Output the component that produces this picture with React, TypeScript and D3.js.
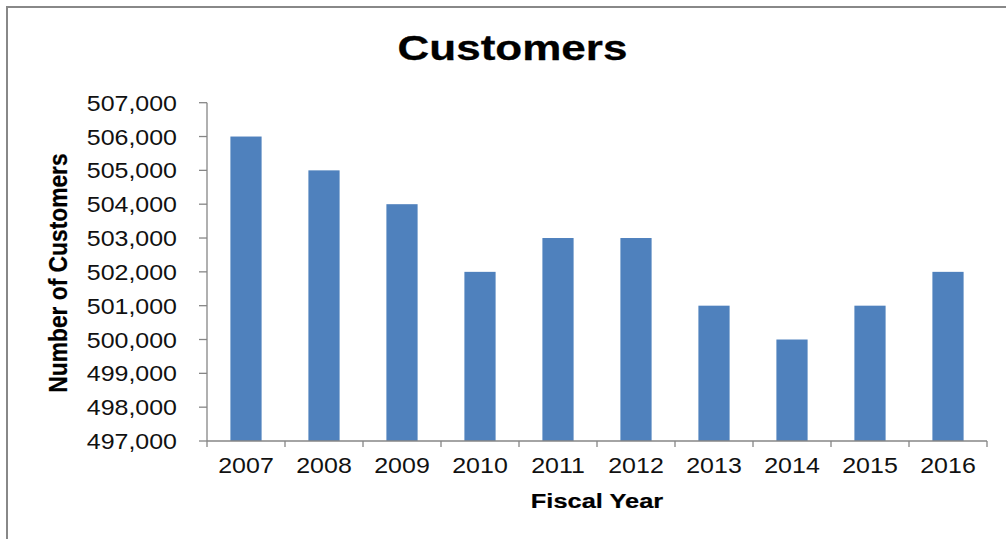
import React from "react";
import * as d3 from "d3";

const years = ["2007", "2008", "2009", "2010", "2011", "2012", "2013", "2014", "2015", "2016"];
const customers = [506000, 505000, 504000, 502000, 503000, 503000, 501000, 500000, 501000, 502000];
const yTicks = [497000, 498000, 499000, 500000, 501000, 502000, 503000, 504000, 505000, 506000, 507000];
const title = "Customers";
const xTitle = "Fiscal Year";
const yTitle = "Number of Customers";

const W = 1006;
const H = 539;
const FONT = "'Liberation Sans', Arial, sans-serif";
const AXIS = "#868686";
const BAR = "#4F81BD";
const SX = 1.12;

export default function App() {
  const x = d3.scaleBand<string>().domain(years).range([207, 987]).paddingInner(0.6).paddingOuter(0.3);
  const y = d3.scaleLinear().domain([497000, 507000]).range([441, 102.7]);
  const fmt = d3.format(",");
  const step = x.step();
  const x0 = 207;
  const x1 = 987;
  const yBase = y(497000);
  const boundaries = d3.range(years.length + 1).map((i) => x0 + i * step);

  return (
    <svg width={W} height={H} style={{ position: "absolute", left: 0, top: 0, background: "#fff" }}>
      <rect x={7} y={7} width={W + 20} height={H + 20} fill="#fff" stroke="#888" strokeWidth={2} />
      <g transform={`translate(512.5,59.5) scale(1.24,1)`}>
        <text x={0} y={0} textAnchor="middle" fontFamily={FONT} fontWeight="bold" fontSize={35.5} fill="#000" stroke="#000" strokeWidth={0.3}>
          {title}
        </text>
      </g>
      {customers.map((v, i) => (
        <rect key={years[i]} x={x(years[i])!} y={y(v)} width={x.bandwidth()} height={yBase - y(v)} fill={BAR} />
      ))}
      <line x1={x0} x2={x0} y1={y(507000)} y2={yBase} stroke={AXIS} strokeWidth={1.3} />
      {yTicks.map((t) => (
        <g key={t}>
          <line x1={x0 - 8} x2={x0} y1={y(t)} y2={y(t)} stroke={AXIS} strokeWidth={1.3} />
          <g transform={`translate(177,${y(t) + 8}) scale(${SX},1)`}>
            <text x={0} y={0} textAnchor="end" fontFamily={FONT} fontSize={22.3} fill="#111">
              {fmt(t)}
            </text>
          </g>
        </g>
      ))}
      <line x1={x0} x2={x1} y1={yBase} y2={yBase} stroke={AXIS} strokeWidth={1.3} />
      {boundaries.map((b, i) => (
        <line key={i} x1={b} x2={b} y1={yBase} y2={yBase + 6} stroke={AXIS} strokeWidth={1.3} />
      ))}
      {years.map((yr) => (
        <g key={yr} transform={`translate(${x(yr)! + x.bandwidth() / 2},473) scale(${SX},1)`}>
          <text x={0} y={0} textAnchor="middle" fontFamily={FONT} fontSize={22.3} fill="#111">
            {yr}
          </text>
        </g>
      ))}
      <g transform={`translate(597,507.5) scale(1.24,1)`}>
        <text x={0} y={0} textAnchor="middle" fontFamily={FONT} fontWeight="bold" fontSize={20.5} fill="#000" stroke="#000" strokeWidth={0.2}>
          {xTitle}
        </text>
      </g>
      <g transform={`translate(67,273) rotate(-90) scale(1,1.1)`}>
        <text x={0} y={0} textAnchor="middle" fontFamily={FONT} fontWeight="bold" fontSize={22.8} fill="#000" stroke="#000" strokeWidth={0.2}>
          {yTitle}
        </text>
      </g>
    </svg>
  );
}
